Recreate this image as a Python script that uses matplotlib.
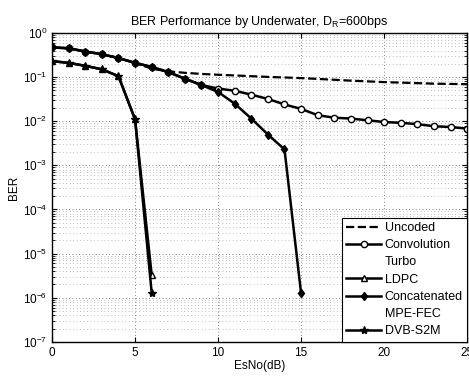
import matplotlib
matplotlib.use("Agg")
import matplotlib.pyplot as plt

plt.rcParams['font.family'] = ['Liberation Sans', 'DejaVu Sans']

# EsNo (dB) points
esno_uncoded = list(range(0, 26))
ber_uncoded = [0.47, 0.45, 0.38, 0.33, 0.27, 0.21, 0.155, 0.135, 0.125, 0.118,
               0.113, 0.109, 0.105, 0.101, 0.098, 0.095, 0.091, 0.087, 0.083, 0.080,
               0.077, 0.075, 0.073, 0.071, 0.070, 0.069]

esno_conv = list(range(0, 26))
ber_conv = [0.47, 0.45, 0.38, 0.33, 0.27, 0.21, 0.17, 0.13, 0.092, 0.066,
            0.055, 0.049, 0.040, 0.032, 0.024, 0.019, 0.0137, 0.012, 0.0115, 0.0105,
            0.0096, 0.0092, 0.0086, 0.0077, 0.0074, 0.0068]

esno_ldpc = [0, 1, 2, 3, 4, 5, 6]
ber_ldpc = [0.23, 0.21, 0.18, 0.15, 0.105, 0.011, 3.3e-6]

esno_concat = list(range(0, 16))
ber_concat = [0.47, 0.45, 0.38, 0.33, 0.27, 0.21, 0.17, 0.13, 0.092, 0.066,
              0.046, 0.025, 0.0115, 0.005, 0.0023, 1.25e-6]

esno_dvb = [0, 1, 2, 3, 4, 5, 6]
ber_dvb = [0.23, 0.21, 0.18, 0.15, 0.105, 0.011, 1.3e-6]

fig = plt.figure(figsize=(4.69, 3.79), dpi=100)
ax = fig.add_axes([0.111, 0.098, 0.885, 0.815])

ax.semilogy(esno_uncoded, ber_uncoded, 'k--', lw=1.6, label='Uncoded')
ax.semilogy(esno_conv, ber_conv, 'k-o', lw=1.8, ms=4.5, mfc='white', mew=1.0, label='Convolution')
ax.plot([], [], color='none', label='Turbo')
ax.semilogy(esno_ldpc, ber_ldpc, 'k-^', lw=1.8, ms=5, mfc='white', mew=1.0, label='LDPC')
ax.semilogy(esno_concat, ber_concat, 'k-d', lw=1.8, ms=4.5, mfc='black', label='Concatenated')
ax.plot([], [], color='none', label='MPE-FEC')
ax.semilogy(esno_dvb, ber_dvb, 'k-*', lw=1.8, ms=6, mfc='black', label='DVB-S2M')

ax.set_xlim(0, 25)
ax.set_ylim(1e-7, 1)
ax.set_xticks([0, 5, 10, 15, 20, 25])
ax.set_yticks([1e0, 1e-1, 1e-2, 1e-3, 1e-4, 1e-5, 1e-6, 1e-7])
ax.grid(True, which='major', color='0.35', lw=0.6, dashes=(1, 3))
ax.grid(True, which='minor', axis='y', color='0.5', lw=0.5, dashes=(1, 4))
ax.tick_params(which='both', direction='in', labelsize=8.5, top=True, right=True)

ax.set_title('BER Performance by Underwater, D$_\\mathregular{R}$=600bps', fontsize=9)
ax.set_xlabel('EsNo(dB)', fontsize=8.5, labelpad=1)
ax.set_ylabel('BER', fontsize=8.5, labelpad=2)

leg = ax.legend(loc='lower right', fontsize=9, fancybox=False, framealpha=1,
                edgecolor='black', borderaxespad=0, handlelength=2.8,
                labelspacing=0.42, borderpad=0.35, handletextpad=0.25)
leg.get_frame().set_linewidth(0.8)

for s in ax.spines.values():
    s.set_linewidth(1.0)

fig.savefig('out.png', dpi=100)
